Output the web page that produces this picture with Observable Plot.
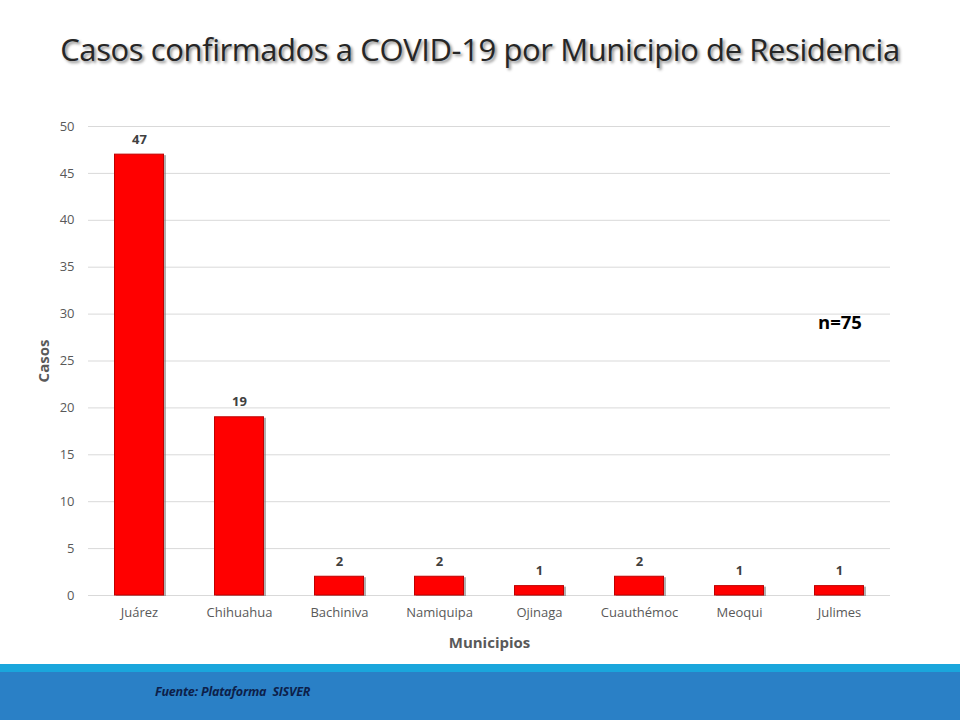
<!DOCTYPE html>
<html>
<head>
<meta charset="utf-8">
<script src="https://cdn.jsdelivr.net/npm/d3@7"></script>
<script src="https://cdn.jsdelivr.net/npm/@observablehq/plot@0.6"></script>
<style>
  html, body { margin: 0; padding: 0; background: #fff; }
  #page { position: relative; width: 960px; height: 720px; overflow: hidden; background: #fff; font-family: "Open Sans", "Liberation Sans", sans-serif; }
  #title { position: absolute; left: 0; top: 28px; width: 960px; text-align: center; font-family: "Open Sans", sans-serif; font-size: 31px; letter-spacing: -0.4px; color: #262626; text-shadow: 2px 2px 3px rgba(0,0,0,0.45); white-space: nowrap; }
  #chart { position: absolute; left: 0; top: 100px; }
  #note { position: absolute; left: 818px; top: 309px; font-size: 18.5px; font-weight: bold; color: #000; }
  #strip { position: absolute; left: 0; top: 664px; width: 960px; height: 8px; background: #1aa6dc; }
  #footer { position: absolute; left: 0; top: 672px; width: 960px; height: 48px; background: #2a80c6; }
  #source { position: absolute; left: 155px; top: 683px; font-size: 12.5px; font-style: italic; font-weight: bold; color: #0d1f4a; letter-spacing: -0.2px; }
</style>
</head>
<body>
<div id="page">
  <div id="title">Casos confirmados a COVID-19 por Municipio de Residencia</div>
  <div id="chart"></div>
  <div id="note">n=75</div>
  <div id="strip"></div>
  <div id="footer"></div>
  <div id="source">Fuente: Plataforma&nbsp; SISVER</div>
</div>
<script>
const municipios = ["Juárez", "Chihuahua", "Bachiniva", "Namiquipa", "Ojinaga", "Cuauthémoc", "Meoqui", "Julimes"];
const casos = [47, 19, 2, 2, 1, 2, 1, 1];
const yTicks = [0, 5, 10, 15, 20, 25, 30, 35, 40, 45, 50];

const data = municipios.map((m, i) => ({municipio: m, casos: casos[i]}));

const chart = Plot.plot({
  width: 960,
  height: 560,
  marginLeft: 88,
  marginRight: 70,
  marginTop: 26,
  marginBottom: 65,
  style: {fontFamily: "'Open Sans', 'Liberation Sans', sans-serif", fontSize: "13px", color: "#595959", background: "transparent"},
  x: {domain: municipios, paddingInner: 0.5, paddingOuter: 0.25, label: "Municipios", labelArrow: "none", labelAnchor: "center", labelOffset: 52, tickSize: 0, tickPadding: 12},
  y: {domain: [0, 50], ticks: yTicks, label: "Casos", labelArrow: "none", labelAnchor: "center", labelOffset: 50, tickSize: 0, tickPadding: 14, grid: false},
  marks: [
    Plot.gridY(yTicks, {stroke: "#d9d9d9", strokeOpacity: 1, strokeWidth: 1}),
    Plot.barY(data, {x: "municipio", y: "casos", fill: "#7f7f7f", fillOpacity: 0.6, dx: 2, dy: 1}),
    Plot.barY(data, {x: "municipio", y: "casos", fill: "#ff0000", stroke: "#c00000", strokeWidth: 1, insetLeft: 0.5, insetRight: 0.5}),
    Plot.text(data, {x: "municipio", y: "casos", text: d => String(d.casos), dy: -15, fontWeight: "bold", fontSize: 13, fill: "#404040"})
  ]
});

// Style axis labels
chart.querySelectorAll("g[aria-label='x-axis label'] text, g[aria-label='y-axis label'] text").forEach(t => {
  t.textContent = t.textContent.replace(/[↑→←↓]/g, "").trim();
  t.setAttribute("font-weight", "bold");
  t.setAttribute("font-size", "15");
  t.setAttribute("fill", "#595959");
});
document.getElementById("chart").appendChild(chart);
</script>
</body>
</html>
